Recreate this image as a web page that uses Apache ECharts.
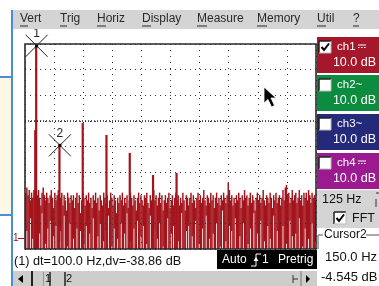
<!DOCTYPE html>
<html><head><meta charset="utf-8">
<script src="https://cdn.jsdelivr.net/npm/echarts@6/dist/echarts.min.js"></script>
<style>html,body{margin:0;padding:0;background:#fff}#c{width:379px;height:286px}</style>
</head><body><div id="c"></div>
<script>
// ---------------- DATA ----------------
var BIN_HZ = 5;
var noiseHigh = [
 -23,-21,-24,-22,-26,-23,-25,-22,-24,-27,
 -24,-22,-25,-28,-23,-21,-24,-26,-23,-25,
 -27,-24,-22,-25,-29,-23,-26,-24,-22,-27,
 -25,-23,-28,-24,-26,-30,-23,-25,-27,-24,
 -26,-24,-29,-25,-23,-27,-24,-31,-26,-23,
 -25,-28,-24,-26,-23,-27,-25,-29,-24,-26,
 -23,-27,-25,-30,-24,-26,-28,-23,-25,-27,
 -24,-29,-26,-23,-25,-28,-24,-26,-31,-25,
 -27,-24,-26,-23,-28,-25,-27,-24,-29,-26,
 -23,-25,-28,-24,-26,-30,-25,-23,-27,-24,
 -26,-28,-24,-25,-23,-27,-29,-24,-26,-25,
 -22,-26,-24,-28,-25,-23,-27,-24,-30,-26,
 -24,-27,-25,-23,-29,-26,-24,-28,-25,-23,
 -26,-24,-28,-25,-27,-23,-26,-30,-24,-25,
 -28,-25,-23,-27,-24,-26,-29,-25,-23,-26,
 -24,-27,-25,-22,-26,-28,-24,-25,-27,-23,
 -26,-24,-29,-25,-23,-27,-25,-28,-24,-26,
 -23,-25,-27,-24,-19,-22,-26,-24,-28,-25,
 -27,-24,-26,-23,-25,-29,-24,-26,-22,-25,
 -24,-28,-25,-23,-27,-24,-26,-30,-25,-23,
 -26,-24,-27,-25,-22,-26,-28,-24,-25,-27,
 -23,-25,-29,-24,-26,-23,-27,-25,-24,-28,
 -25,-22,-26,-21,-20,-24,-23,-27,-25,-22,
 -26,-24,-23,-27,-25,-22,-26,-24,-28,-23,
 -25,-23,-26,-22,-24,-27,-23,-25,-24,-26
];
var noiseLow = [
 -45,-38,-45,-45,-33,-45,-41,-45,-45,-36,
 -45,-45,-39,-45,-31,-45,-45,-43,-45,-37,
 -45,-34,-45,-45,-40,-45,-36,-45,-45,-42,
 -38,-45,-45,-32,-45,-45,-44,-45,-35,-45,
 -45,-41,-45,-45,-37,-45,-45,-38,-45,-45,
 -43,-45,-36,-45,-45,-39,-45,-45,-33,-45,
 -45,-45,-40,-45,-35,-45,-45,-42,-45,-38,
 -45,-32,-45,-45,-44,-45,-37,-45,-45,-41,
 -45,-45,-35,-45,-45,-39,-45,-31,-45,-45,
 -42,-45,-45,-37,-45,-45,-34,-45,-45,-40,
 -45,-36,-45,-45,-43,-45,-45,-32,-45,-45,
 -38,-45,-45,-41,-45,-35,-45,-45,-44,-45,
 -45,-45,-33,-45,-45,-39,-45,-36,-45,-45,
 -45,-42,-45,-45,-31,-45,-45,-45,-38,-45,
 -36,-45,-45,-40,-45,-45,-34,-45,-45,-43,
 -45,-45,-37,-45,-45,-32,-45,-45,-41,-45,
 -45,-39,-45,-45,-35,-45,-45,-44,-45,-30,
 -45,-45,-42,-45,-45,-36,-45,-38,-45,-45,
 -33,-45,-45,-45,-40,-45,-45,-35,-45,-45,
 -45,-43,-45,-37,-45,-45,-31,-45,-45,-39,
 -45,-45,-34,-45,-45,-42,-45,-45,-36,-45,
 -41,-45,-45,-32,-45,-45,-38,-45,-45,-45,
 -45,-36,-45,-45,-43,-45,-45,-34,-45,-40,
 -45,-45,-39,-45,-45,-33,-45,-45,-44,-45,
 -37,-45,-45,-41,-45,-45,-35,-45,-45,-42
];
var peakFreqs  = [44, 48, 148, 248, 350, 450, 550, 651];
var peakLevels = [1.4, 34.3, -4.5, 4.2, -0.5, -7.5, -16.1, -15.3];
var cursorFreqs  = [50, 150];
var cursorLevels = [34.31, -4.545];
var cursorNames  = ['1', '2'];
var menuItems = ['Vert', 'Trig', 'Horiz', 'Display', 'Measure', 'Memory', 'Util', '?'];
var channelNames  = ['ch1', 'ch2~', 'ch3~', 'ch4'];
var channelScales = ['10.0 dB', '10.0 dB', '10.0 dB', '10.0 dB'];
var channelChecked = [true, false, false, false];
var statusText = '(1) dt=100.0 Hz,dv=-38.86 dB';
var timebaseText = '125 Hz';
var cursorTitle = 'Cursor2';
var cursorFreqText = '150.0 Hz';
var cursorLevelText = '-4.545 dB';

// ---------------- LAYOUT / STYLE ----------------
var FONT = 'Liberation Sans, Arial, sans-serif';
var TRACE = '#a3141c';
var menuX = [20, 60, 97, 142, 197, 257, 317, 353];
var menuUW = [8, 7, 9, 9, 10, 10, 9, 6];
var chY = [37, 75, 114, 153];
var chColors = ['#a5172a', '#0b8c3e', '#25297a', '#9b1a90'];

var G = [];
function R(x, y, w, h, fill, stroke, lw, z) {
  G.push({type:'rect', z:z || 100, shape:{x:x, y:y, width:w, height:h},
    style:{fill:fill || 'none', stroke:stroke || null, lineWidth:lw || 1}});
}
function L(x1, y1, x2, y2, c, w) {
  G.push({type:'line', z:100, shape:{x1:x1, y1:y1, x2:x2, y2:y2}, style:{stroke:c, lineWidth:w || 1}});
}
function T(x, y, s, size, color, align) {
  G.push({type:'text', z:101, x:x, y:y, style:{text:s, font:size + 'px ' + FONT, fill:color,
    textAlign:align || 'left', textVerticalAlign:'middle'}});
}
function P(points, fill) {
  G.push({type:'polygon', z:102, shape:{points:points}, style:{fill:fill}});
}
function PL(points, c, w) {
  G.push({type:'polyline', z:102, shape:{points:points}, style:{stroke:c, lineWidth:w || 1, fill:'none'}});
}
function checkbox(x, y, checked) {
  R(x, y, 12, 12, '#fff');
  L(x, y, x + 12, y, '#222', 1.5);
  L(x, y, x, y + 12, '#222', 1.5);
  L(x + 12, y, x + 12, y + 12, '#bbb', 1);
  L(x, y + 12, x + 12, y + 12, '#bbb', 1);
  if (checked) PL([[x + 2.5, y + 6], [x + 5, y + 9], [x + 10, y + 2.5]], '#000', 2);
}

// left panel + menu bar
L(12, 10, 12, 286, '#4a8fd6', 2);
R(0, 77, 11, 138, '#fdf8e6');
L(0, 77, 12, 77, '#4a8fd6', 2);
L(0, 215, 12, 215, '#4a8fd6', 2);
R(13, 10, 366, 19, '#d4d4d4');
for (var i = 0; i < menuItems.length; i++) {
  T(menuX[i], 19, menuItems[i], 12, '#2a2a2a');
  L(menuX[i], 26, menuX[i] + menuUW[i], 26, '#2a2a2a', 1);
}
// plot frame
R(25, 44, 291, 205, null, '#2a2a2a', 1.6);
// ch1 ground marker
T(13, 238, '1', 10, '#a01020');
L(18, 238.5, 24, 238.5, '#a01020', 1);
// status line
T(14, 261, statusText, 12.7, '#111');
R(217, 250, 100, 19, '#000');
T(222, 260, 'Auto', 12, '#fff');
PL([[251, 266], [256, 266], [256, 254], [261, 254]], '#fff', 1);
P([[253.5, 261], [258.5, 261], [256, 257]], '#fff');
T(262, 260, '1', 12, '#fff');
T(278, 260, 'Pretrig', 12, '#fff');
R(317, 250, 7, 20, '#fff', null, 1, 103);
// scrollbar
R(13, 271, 304, 15, '#cdcdcd');
P([[23, 275], [23, 283], [18, 279]], '#000');
L(32, 271, 32, 286, '#222', 2);
L(43.5, 272, 43.5, 286, '#999', 1);
T(45, 279, '1', 11, '#111');
L(50, 272, 50, 286, '#222', 1.5);
L(65, 272, 65, 286, '#222', 1.5);
T(66, 279, '2', 11, '#111');
L(293, 279, 298, 279, '#333', 1);
L(293, 275, 293, 283, '#333', 1);
L(301, 271, 301, 286, '#777', 1);
P([[306, 275], [306, 283], [310, 279]], '#000');
// channel buttons
for (var c = 0; c < 4; c++) {
  var y0 = chY[c];
  R(317, y0, 62, 36, chColors[c]);
  checkbox(319, y0 + 4, channelChecked[c]);
  T(337, y0 + 10, channelNames[c], 11.5, '#fff');
  T(376, y0 + 26, channelScales[c], 12.5, '#fff', 'right');
}
[0, 3].forEach(function (c) {
  var y0 = chY[c] + 8;
  L(358, y0, 366, y0, '#fff', 1);
  for (var k = 0; k < 3; k++) L(358 + k * 3, y0 + 2.5, 359.5 + k * 3, y0 + 2.5, '#fff', 1);
});
// timebase panel
R(317, 190, 62, 38, '#d4d4d4');
T(322, 200, timebaseText, 12.5, '#111');
L(376, 193, 379, 193, '#333', 1);
L(376, 199, 376, 207, '#333', 1);
checkbox(334, 212, true);
T(352, 219, 'FFT', 12.5, '#111');
// cursor group
L(318, 235, 323, 235, '#555', 1);
L(366, 235, 379, 235, '#555', 1);
L(318, 235, 318, 249, '#555', 1);
T(324, 235, cursorTitle, 12, '#111');
T(325, 257, cursorFreqText, 13, '#111');
T(321, 277, cursorLevelText, 13, '#111');
// mouse pointer
G.push({type:'polygon', z:110, shape:{points:[[264,87],[264,103],[268,99.5],[271.5,107],[274.5,105.5],[271,98],[276,98]]},
  style:{fill:'#000', stroke:'#fff', lineWidth:0.8}});

// ---------------- SERIES DATA ----------------
var noiseData = noiseHigh.map(function (h, i) { return [(i + 0.5) * BIN_HZ, noiseLow[i], h]; });
var peakData = peakFreqs.map(function (f, i) { return [f, -45, peakLevels[i]]; });
var cursorData = cursorFreqs.map(function (f, i) { return [f, cursorLevels[i]]; });

var chart = echarts.init(document.getElementById('c'), null, {renderer:'canvas'});
chart.setOption({
  animation: false,
  backgroundColor: '#fff',
  grid: {left:25, top:44, width:291, height:205, show:false},
  xAxis: {type:'value', min:0, max:1250, interval:125, z:5,
    axisLine:{show:false}, axisTick:{show:false}, axisLabel:{show:false},
    splitLine:{show:true, lineStyle:{color:'#333', width:1, type:[1,5]}}},
  yAxis: [
    {type:'value', min:-45, max:35, axisLine:{show:false}, axisTick:{show:false},
      axisLabel:{show:false}, splitLine:{show:false}},
    {type:'value', min:0, max:80, interval:10, z:5, axisLine:{show:false}, axisTick:{show:false},
      axisLabel:{show:false}, splitLine:{show:true, lineStyle:{color:'#333', width:1, type:[1,4]}}}
  ],
  series: [
    {type:'custom', yAxisIndex:0, z:2, data:noiseData, clip:true,
      renderItem:function (params, api) {
        var lo = Math.min(api.value(1), api.value(2)), hi = Math.max(api.value(1), api.value(2));
        var a = api.coord([api.value(0) - BIN_HZ / 2, hi]);
        var b = api.coord([api.value(0) + BIN_HZ / 2, lo]);
        return {type:'rect', shape:{x:a[0], y:a[1], width:b[0] - a[0] + 0.3, height:b[1] - a[1]}, style:{fill:TRACE}};
      }},
    {type:'custom', yAxisIndex:0, z:3, data:peakData, clip:true,
      renderItem:function (params, api) {
        var a = api.coord([api.value(0), api.value(2)]);
        var b = api.coord([api.value(0), api.value(1)]);
        return {type:'rect', shape:{x:a[0] - 1.1, y:a[1], width:2.2, height:b[1] - a[1]}, style:{fill:TRACE}};
      }},
    {type:'custom', yAxisIndex:0, z:8, data:cursorData,
      markLine:{silent:true, symbol:'none', label:{show:false},
        lineStyle:{color:'#222', width:1.5, type:[1,2]}, data:[{yAxis:5}]},
      renderItem:function (params, api) {
        var p = api.coord([api.value(0), api.value(1)]);
        var s = 11, st = {stroke:'#222', lineWidth:1};
        return {type:'group', children:[
          {type:'line', shape:{x1:p[0]-s, y1:p[1]-s, x2:p[0]+s, y2:p[1]+s}, style:st},
          {type:'line', shape:{x1:p[0]+s, y1:p[1]-s, x2:p[0]-s, y2:p[1]+s}, style:st},
          {type:'rect', shape:{x:p[0]-1.5, y:p[1]-1.5, width:3, height:3}, style:{fill:'#000'}},
          {type:'text', x:p[0], y:p[1]-12, style:{text:cursorNames[params.dataIndex], font:'12px ' + FONT,
            fill:'#222', textAlign:'center', textVerticalAlign:'middle'}}
        ]};
      }}
  ],
  graphic: G
});
</script>
</body></html>
